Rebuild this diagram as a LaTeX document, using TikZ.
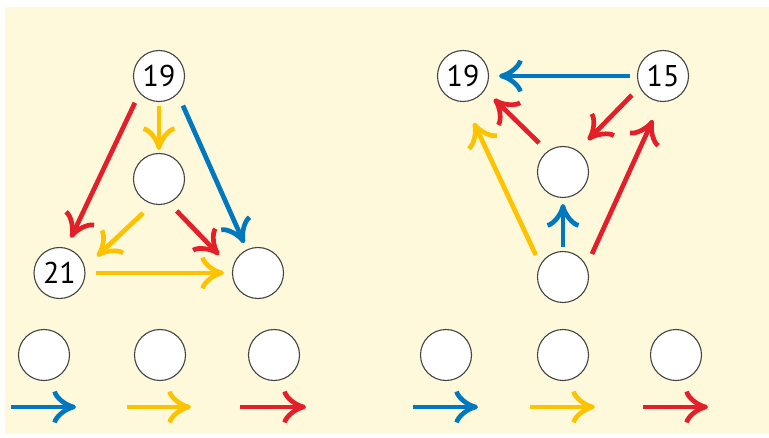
\documentclass[tikz,border=0pt]{standalone}
\usepackage{fontspec}
\setmainfont{PT Sans}
\usetikzlibrary{arrows.meta,calc}

\definecolor{paper}{HTML}{FFF9DB}
\definecolor{ringgray}{HTML}{444444}
\definecolor{arrred}{HTML}{E3202A}
\definecolor{arryellow}{HTML}{FDC300}
\definecolor{arrblue}{HTML}{0078BF}

% open tip with curved barbs
\pgfdeclarearrow{
	name = Fork,
	parameters = {\the\pgfarrowlength,\the\pgfarrowwidth,\the\pgfarrowlinewidth},
	setup code = {
		\pgfarrowssettipend{.5\pgfarrowlinewidth}
		\pgfarrowssetbackend{-\pgfarrowlength}
		\pgfarrowssetlineend{-.5\pgfarrowlinewidth}
		\pgfarrowshullpoint{.5\pgfarrowlinewidth}{0pt}
		\pgfarrowsupperhullpoint{-\pgfarrowlength}{.5\pgfarrowwidth}
		\pgfarrowssavethe\pgfarrowlength
		\pgfarrowssavethe\pgfarrowwidth
		\pgfarrowssavethe\pgfarrowlinewidth
	},
	drawing code = {
		\pgfsetlinewidth{\pgfarrowlinewidth}
		\pgfsetdash{}{0pt}
		\pgfsetbuttcap
		\pgfsetroundjoin
		\pgfpathmoveto{\pgfqpoint{-\pgfarrowlength}{.5\pgfarrowwidth}}
		\pgfpathcurveto{\pgfqpoint{-.94\pgfarrowlength}{.3\pgfarrowwidth}}{\pgfqpoint{-.4\pgfarrowlength}{.05\pgfarrowwidth}}{\pgfpointorigin}
		\pgfpathcurveto{\pgfqpoint{-.4\pgfarrowlength}{-.05\pgfarrowwidth}}{\pgfqpoint{-.94\pgfarrowlength}{-.3\pgfarrowwidth}}{\pgfqpoint{-\pgfarrowlength}{-.5\pgfarrowwidth}}
		\pgfusepathqstroke
	},
	defaults = {length=19pt, width=31pt, line width=0pt 1}
}

\tikzset{
	num/.style={circle, draw=ringgray, line width=1.1pt, fill=white,
		minimum size=51pt, inner sep=0pt, font=\fontsize{30}{30}\selectfont},
	link/.style={line width=4.7pt, -{Fork[length=19pt,width=31pt]}},
	rd/.style={link, draw=arrred},
	yl/.style={link, draw=arryellow},
	bl/.style={link, draw=arrblue},
}

\begin{document}
\begin{tikzpicture}[x=1pt, y=1pt]
		\useasboundingbox (0,0) rectangle (769,437);
		\fill[paper] (5,3) rectangle (769,430);
		% left triangle
		\node[num] (l19) at (159,361) {19};
		\node[num] (lm) at (159,258) {};
		\node[num] (l21) at (59.5,164) {21};
		\node[num] (lr) at (258,164) {};
		\draw[rd] ($(l19)+(228:36)$) -- ($(l21)+(72:37)$);
		\draw[yl] ($(l19)+(270:30)$) -- ($(lm)+(90:29)$);
		\draw[bl] ($(l19)+(309:38)$) -- ($(lr)+(115:33)$);
		\draw[yl] ($(lm)+(245:37.5)$) -- ($(l21)+(24:41)$);
		\draw[rd] ($(lm)+(299:36.5)$) -- ($(lr)+(155:43)$);
		\draw[yl] ($(l21)+(0:36.5)$) -- ($(lr)+(180:34)$);
		% right triangle
		\node[num] (r19) at (463,361) {19};
		\node[num] (r15) at (663,361) {15};
		\node[num] (rm) at (563,265) {};
		\node[num] (rb) at (563,160) {};
		\draw[bl] ($(r15)+(180:33)$) -- ($(r19)+(0:36)$);
		\draw[rd] ($(r15)+(211.5:36.5)$) -- ($(rm)+(52:40.5)$);
		\draw[rd] ($(rm)+(129.5:37.5)$) -- ($(r19)+(323.5:38.5)$);
		\draw[yl] ($(rb)+(141:35)$) -- ($(r19)+(283:48)$);
		\draw[bl] ($(rb)+(90:30)$) -- ($(rm)+(270:32)$);
		\draw[rd] ($(rb)+(38.5:37)$) -- ($(r15)+(257:45)$);
		% answer slots
		\node[num] (s1) at (44,82) {};
		\node[num] (s2) at (160,82) {};
		\node[num] (s3) at (274,82) {};
		\node[num] (s4) at (446,82) {};
		\node[num] (s5) at (563,82) {};
		\node[num] (s6) at (676,82) {};
		\coordinate (k1a) at (11,30);  \coordinate (k1b) at (76,30);
		\coordinate (k2a) at (127,30); \coordinate (k2b) at (191,30);
		\coordinate (k3a) at (240,30); \coordinate (k3b) at (306,30);
		\coordinate (k4a) at (413,30); \coordinate (k4b) at (478,30);
		\coordinate (k5a) at (530,30); \coordinate (k5b) at (595,30);
		\coordinate (k6a) at (643,30); \coordinate (k6b) at (708,30);
		\draw[bl] (k1a) -- (k1b);
		\draw[yl] (k2a) -- (k2b);
		\draw[rd] (k3a) -- (k3b);
		\draw[bl] (k4a) -- (k4b);
		\draw[yl] (k5a) -- (k5b);
		\draw[rd] (k6a) -- (k6b);
\end{tikzpicture}
\end{document}
